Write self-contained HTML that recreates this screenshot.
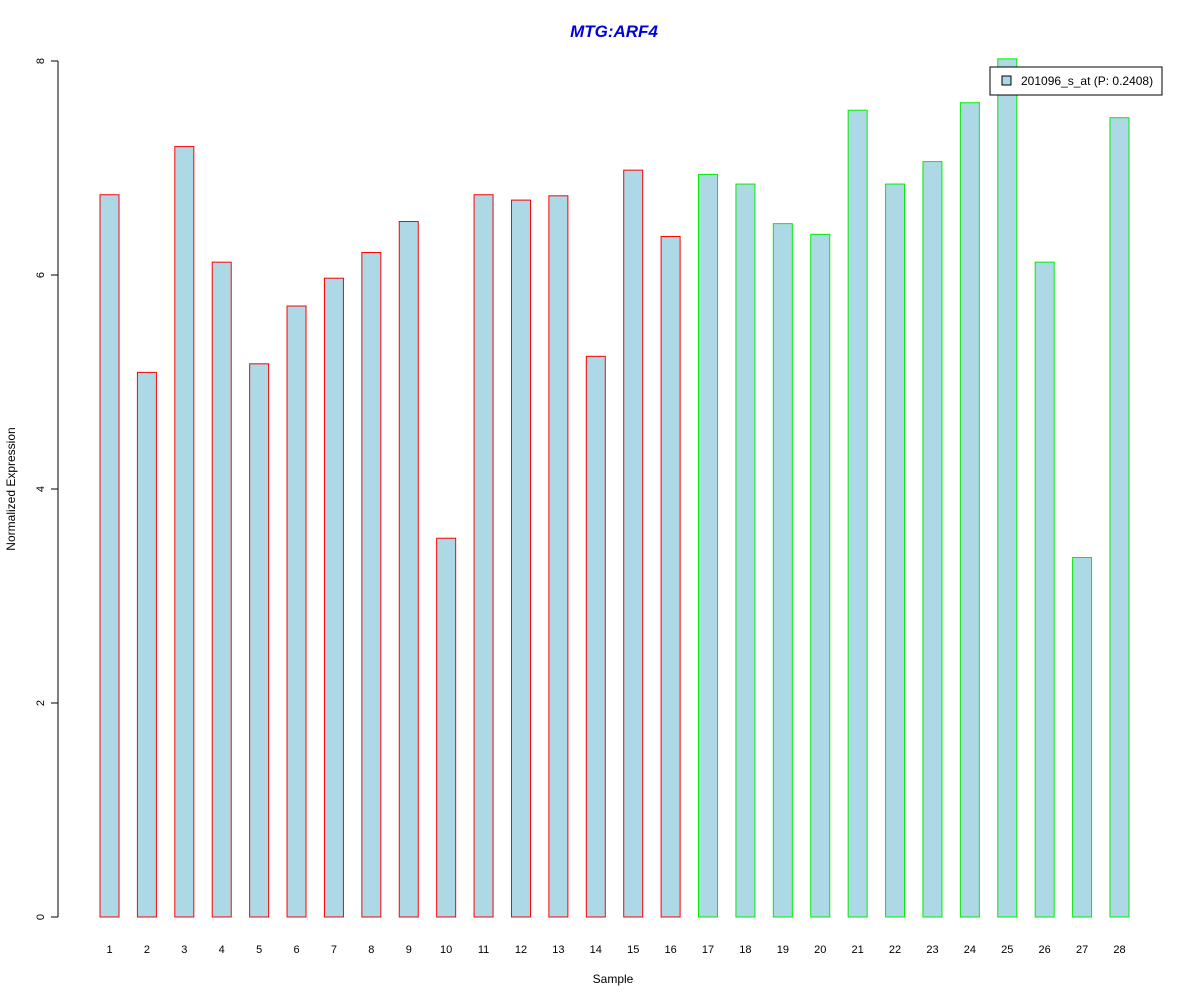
<!DOCTYPE html>
<html><head><meta charset="utf-8"><style>
html,body{margin:0;padding:0;background:#fff;}
svg{display:block;font-family:"Liberation Sans",Arial,sans-serif;}
</style></head><body>
<svg id="chart" width="1200" height="1000" viewBox="0 0 1200 1000">
<text x="614" y="37" text-anchor="middle" font-size="17" font-weight="bold" font-style="italic" fill="#0000dd">MTG:ARF4</text>
<text x="613" y="983" text-anchor="middle" font-size="12">Sample</text>
<text transform="translate(15,489) rotate(-90)" text-anchor="middle" font-size="12">Normalized Expression</text>
<g id="yaxis"></g>
<g id="bars"></g>
<g id="xlabels"></g>
<g>
<rect x="990" y="67" width="172" height="28" fill="#fff" stroke="#000"/>
<rect x="1002" y="76" width="9" height="9" fill="#add8e6" stroke="#000"/>
<text x="1021" y="85" font-size="12">201096_s_at (P: 0.2408)</text>
</g>
</svg>
<script>
const categories = ["1","2","3","4","5","6","7","8","9","10","11","12","13","14","15","16","17","18","19","20","21","22","23","24","25","26","27","28"];
const values = [6.75,5.09,7.20,6.12,5.17,5.71,5.97,6.21,6.50,3.54,6.75,6.70,6.74,5.24,6.98,6.36,6.94,6.85,6.48,6.38,7.54,6.85,7.06,7.61,8.02,6.12,3.36,7.47];
const groups = ["ctrl","ctrl","ctrl","ctrl","ctrl","ctrl","ctrl","ctrl","ctrl","ctrl","ctrl","ctrl","ctrl","ctrl","ctrl","ctrl","ad","ad","ad","ad","ad","ad","ad","ad","ad","ad","ad","ad"];
const yTicks = [0,2,4,6,8];
const NS="http://www.w3.org/2000/svg";
const y0=917, pxPerUnit=107;
function yScale(v){return y0 - v*pxPerUnit;}
function xScale(i){return 109.5 + i*(1119.5-109.5)/(categories.length-1);}
function mk(tag,attrs,parent){const e=document.createElementNS(NS,tag);for(const k in attrs)e.setAttribute(k,attrs[k]);parent.appendChild(e);return e;}
const ya=document.getElementById('yaxis');
const axisLine=mk('line',{x1:58,x2:58,y1:yScale(yTicks[0]),y2:yScale(yTicks[yTicks.length-1]),stroke:'#000'},ya);


yTicks.forEach(t=>{
  const tk=mk('line',{x1:51,x2:58,y1:yScale(t),y2:yScale(t),stroke:'#000'},ya);
  
  
  const tx=mk('text',{transform:`translate(44,${yScale(t)}) rotate(-90)`,'text-anchor':'middle','font-size':11},ya);
  tx.textContent=t;
  
  
});
const bg=document.getElementById('bars'), xl=document.getElementById('xlabels');
values.forEach((v,i)=>{
  const cx=xScale(i);
  const r=mk('rect',{x:cx-9.5,y:yScale(v),width:19,height:y0-yScale(v),fill:'#add8e6',stroke:groups[i]==='ctrl'?'#ff0000':'#00ee00'},bg);
  
  
  const t=mk('text',{x:cx,y:953,'text-anchor':'middle','font-size':11},xl);
  t.textContent=categories[i];
  
  
});
</script>
</body></html>
